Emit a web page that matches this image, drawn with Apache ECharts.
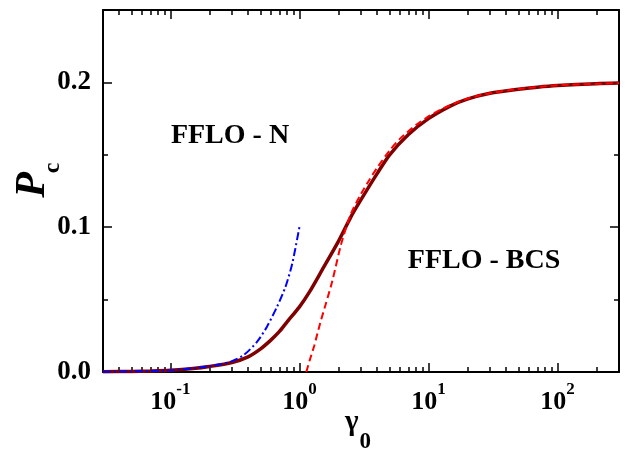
<!DOCTYPE html>
<html><head><meta charset="utf-8">
<script src="https://cdn.jsdelivr.net/npm/echarts@6/dist/echarts.min.js"></script>
<style>html,body{margin:0;padding:0;background:#fff}#c{width:626px;height:449px}</style>
</head><body><div id="c"></div>
<script>
// gamma_0 values and P_c values
const solidX = [0.03, 0.05, 0.07, 0.1, 0.15, 0.2, 0.3, 0.4, 0.5, 0.6, 0.7, 0.8, 1, 1.2, 1.5, 2, 2.5, 3, 4, 5, 7, 10, 15, 20, 30, 50, 70, 100, 200, 300];
const solidY = [0.0002, 0.0004, 0.0007, 0.0012, 0.0024, 0.0038, 0.0066, 0.0105, 0.016, 0.022, 0.028, 0.0345, 0.045, 0.0555, 0.0705, 0.090, 0.107, 0.119, 0.137, 0.150, 0.164, 0.175, 0.184, 0.1885, 0.1925, 0.1953, 0.1967, 0.1978, 0.1991, 0.1995];
const redX = [1.13, 1.2, 1.3, 1.45, 1.6, 1.8, 2.1, 2.5, 3, 3.5, 4, 5, 6, 8, 10, 12, 15, 20, 30, 50, 100, 200, 300];
const redY = [0, 0.008, 0.018, 0.034, 0.047, 0.063, 0.088, 0.109, 0.123, 0.133, 0.141, 0.153, 0.161, 0.1705, 0.1765, 0.1805, 0.1845, 0.1888, 0.1925, 0.1955, 0.198, 0.199, 0.1995];
const blueX = [0.03, 0.05, 0.1, 0.15, 0.2, 0.25, 0.3, 0.37, 0.47, 0.56, 0.67, 0.78, 0.88, 1.0];
const blueY = [0.0002, 0.0004, 0.0012, 0.0025, 0.004, 0.0055, 0.0075, 0.0117, 0.0209, 0.0313, 0.045, 0.0589, 0.075, 0.1002];

const xMajorTicks = [0.1, 1, 10, 100];
const xLabelExps = ['-1', '0', '1', '2'];
const xMinorTicks = [0.04, 0.05, 0.06, 0.07, 0.08, 0.09, 0.2, 0.3, 0.4, 0.5, 0.6, 0.7, 0.8, 0.9, 2, 3, 4, 5, 6, 7, 8, 9, 20, 30, 40, 50, 60, 70, 80, 90, 200];
const yMajorTicks = [0, 0.1, 0.2];
const yLabels = ['0.0', '0.1', '0.2'];
const yMinorTicks = [0.05, 0.15];
const annotations = ['FFLO - N', 'FFLO - BCS'];

const FONT = 'Liberation Serif';
const zip = (a, b) => a.map((v, i) => [v, b[i]]);

function xAx(pos, ticks, len, line, labels) {
  return {
    type: 'log', logBase: 10, min: 0.03, max: 300, position: pos,
    axisLine: { show: line, onZero: false, lineStyle: { color: '#000', width: 2 } },
    axisTick: { show: true, inside: true, length: len, customValues: ticks, lineStyle: { color: '#000', width: 1.5 } },
    axisLabel: labels ? {
      show: true, customValues: xMajorTicks, margin: 9,
      formatter: v => {
        const i = xMajorTicks.findIndex(t => Math.abs(t - v) / t < 1e-6);
        return i < 0 ? '' : '{b|10}{s|' + xLabelExps[i] + '}';
      },
      rich: {
        b: { fontFamily: FONT, fontWeight: 'bold', fontSize: 26, lineHeight: 26, color: '#000', verticalAlign: 'top', padding: [8, 0, 0, 0] },
        s: { fontFamily: FONT, fontWeight: 'bold', fontSize: 17, lineHeight: 17, color: '#000', verticalAlign: 'top' }
      }
    } : { show: false },
    splitLine: { show: false }, minorTick: { show: false }
  };
}
function yAx(pos, ticks, len, line, labels) {
  return {
    type: 'value', min: 0, max: 0.25, position: pos,
    axisLine: { show: line, onZero: false, lineStyle: { color: '#000', width: 2 } },
    axisTick: { show: true, inside: true, length: len, customValues: ticks, lineStyle: { color: '#000', width: 1.5 } },
    axisLabel: labels ? {
      show: true, customValues: yMajorTicks, margin: 12,
      formatter: v => { const i = yMajorTicks.findIndex(t => Math.abs(t - v) < 1e-9); return i < 0 ? '' : yLabels[i]; },
      fontFamily: FONT, fontWeight: 'bold', fontSize: 27, color: '#000'
    } : { show: false },
    splitLine: { show: false }
  };
}

const chart = echarts.init(document.getElementById('c'), null, { renderer: 'canvas' });
chart.setOption({
  animation: false,
  backgroundColor: '#fff',
  grid: { left: 103, right: 7, top: 10, bottom: 77, containLabel: false },
  xAxis: [
    xAx('bottom', xMajorTicks, 9, true, true),
    xAx('bottom', xMinorTicks, 5, false, false),
    xAx('top', xMajorTicks, 9, true, false),
    xAx('top', xMinorTicks, 5, false, false)
  ],
  yAxis: [
    yAx('left', yMajorTicks, 9, true, true),
    yAx('left', yMinorTicks, 5, false, false),
    yAx('right', yMajorTicks, 9, true, false),
    yAx('right', yMinorTicks, 5, false, false)
  ],
  series: [
    { type: 'line', xAxisIndex: 0, yAxisIndex: 0, data: zip(solidX, solidY), showSymbol: false, smooth: 0.25,
      lineStyle: { color: '#800000', width: 3.5 }, z: 3 },
    { type: 'line', xAxisIndex: 0, yAxisIndex: 0, data: zip(blueX, blueY), showSymbol: false, smooth: 0.25,
      lineStyle: { color: '#0000ff', width: 2, type: [8, 3, 2, 3] }, z: 4 },
    { type: 'line', xAxisIndex: 0, yAxisIndex: 0, data: zip(redX, redY), showSymbol: false, smooth: 0.25,
      lineStyle: { color: '#ff0000', width: 2, type: [7, 4] }, z: 5 }
  ],
  graphic: [
    { type: 'text', x: 230, y: 136, style: { text: annotations[0], fontFamily: FONT, fontWeight: 'bold', fontSize: 28, fill: '#000', align: 'center', verticalAlign: 'middle' } },
    { type: 'text', x: 484, y: 261, style: { text: annotations[1], fontFamily: FONT, fontWeight: 'bold', fontSize: 28, fill: '#000', align: 'center', verticalAlign: 'middle' } },
    { type: 'text', x: 358, y: 423, style: {
        text: '{g|γ}{s|0}', align: 'center', verticalAlign: 'middle',
        rich: {
          g: { fontFamily: FONT, fontWeight: 'bold', fontSize: 29, lineHeight: 30, fill: '#000', verticalAlign: 'top' },
          s: { fontFamily: FONT, fontWeight: 'bold', fontSize: 23, lineHeight: 23, fill: '#000', verticalAlign: 'top', padding: [23, 0, 0, 1] }
        } } },
    { type: 'text', x: 33, y: 185, rotation: Math.PI / 2, style: {
        text: 'P', fontFamily: FONT, fontWeight: 'bold', fontStyle: 'italic', fontSize: 42, fill: '#000', align: 'center', verticalAlign: 'middle' } },
    { type: 'text', x: 53, y: 168, rotation: Math.PI / 2, style: {
        text: 'c', fontFamily: FONT, fontWeight: 'bold', fontSize: 24, fill: '#000', align: 'center', verticalAlign: 'middle' } }
  ]
});
</script>
</body></html>
